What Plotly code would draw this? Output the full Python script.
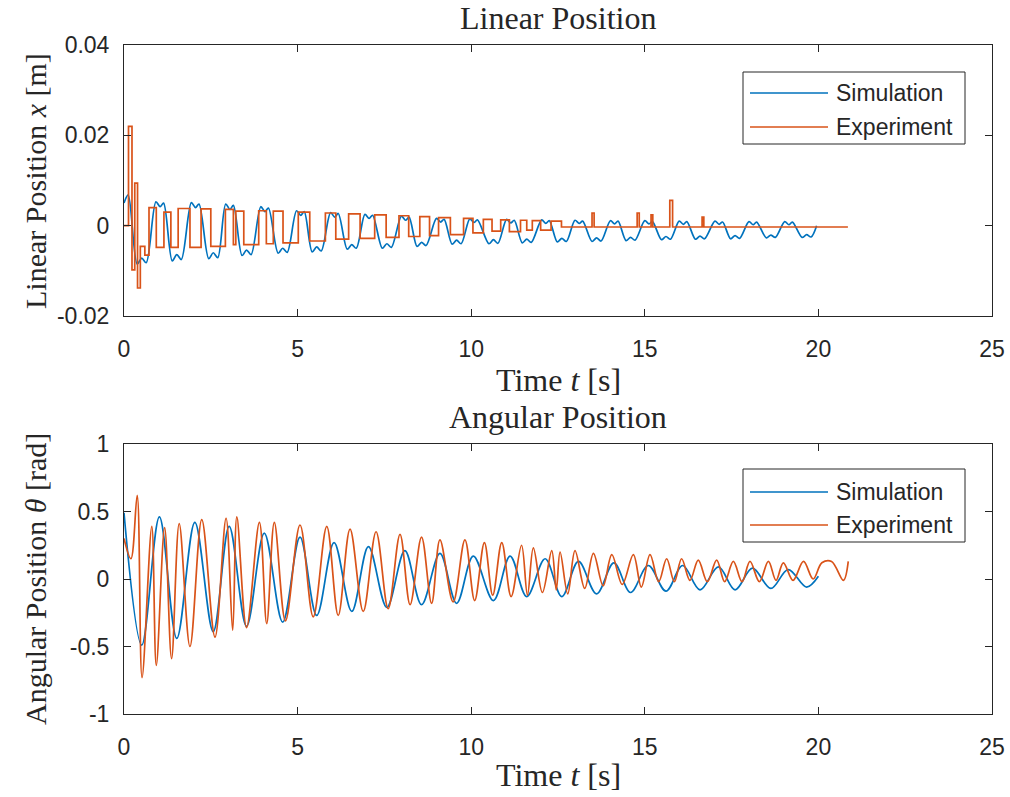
import plotly.graph_objects as go

W, H = 1010, 797

# ---------------- data ----------------
# Linear position, simulation (t [s], x [m])
lin_sim_t = [0.00, 0.12,
             0.38, 0.51, 0.64, 0.92, 1.04, 1.14,
             1.39, 1.52, 1.65, 1.94, 2.06, 2.16,
             2.44, 2.57, 2.70, 2.93, 3.05, 3.15,
             3.40, 3.53, 3.66, 3.94, 4.06, 4.16,
             4.44, 4.57, 4.70, 4.97, 5.09, 5.19,
             5.42, 5.55, 5.68, 5.95, 6.07, 6.17,
             6.43, 6.56, 6.69, 6.94, 7.06, 7.16,
             7.44, 7.57, 7.70, 7.99, 8.11, 8.21,
             8.44, 8.57, 8.70, 9.00, 9.12, 9.22,
             9.45, 9.58, 9.71, 9.96, 10.08, 10.18,
             10.51, 10.64, 10.77, 11.02, 11.14, 11.24,
             11.47, 11.60, 11.73, 12.03, 12.15, 12.25,
             12.48, 12.61, 12.74, 12.99, 13.11, 13.21,
             13.48, 13.61, 13.74, 14.01, 14.13, 14.23,
             14.46, 14.59, 14.72, 15.00, 15.12, 15.22,
             15.48, 15.61, 15.74, 15.99, 16.11, 16.21,
             16.46, 16.59, 16.72, 17.02, 17.14, 17.24,
             17.47, 17.60, 17.73, 18.00, 18.12, 18.22,
             18.50, 18.63, 18.76, 19.03, 19.15, 19.25,
             19.53, 19.66, 19.79, 19.95]
lin_sim_x = [0.0050, 0.0068,
             -0.0085, -0.0072, -0.0082, 0.0053, 0.0042, 0.0050,
             -0.0078, -0.0064, -0.0075, 0.0051, 0.0040, 0.0048,
             -0.0073, -0.0060, -0.0071, 0.0048, 0.0036, 0.0045,
             -0.0066, -0.0054, -0.0064, 0.0042, 0.0031, 0.0039,
             -0.0061, -0.0050, -0.0059, 0.0033, 0.0023, 0.0031,
             -0.0058, -0.0047, -0.0056, 0.0029, 0.0019, 0.0027,
             -0.0052, -0.0042, -0.0050, 0.0025, 0.0016, 0.0023,
             -0.0050, -0.0040, -0.0048, 0.0021, 0.0012, 0.0019,
             -0.0046, -0.0037, -0.0044, 0.0016, 0.0008, 0.0014,
             -0.0041, -0.0032, -0.0040, 0.0015, 0.0007, 0.0013,
             -0.0040, -0.0031, -0.0039, 0.0014, 0.0006, 0.0012,
             -0.0038, -0.0030, -0.0037, 0.0013, 0.0005, 0.0011,
             -0.0036, -0.0028, -0.0035, 0.0012, 0.0005, 0.0010,
             -0.0035, -0.0027, -0.0034, 0.0011, 0.0004, 0.0010,
             -0.0033, -0.0026, -0.0032, 0.0011, 0.0004, 0.0009,
             -0.0031, -0.0024, -0.0030, 0.0010, 0.0003, 0.0009,
             -0.0030, -0.0023, -0.0029, 0.0010, 0.0003, 0.0008,
             -0.0029, -0.0022, -0.0028, 0.0009, 0.0002, 0.0008,
             -0.0027, -0.0021, -0.0026, 0.0009, 0.0002, 0.0008,
             -0.0026, -0.0020, -0.0025, 0.0000]

# Linear position, experiment: encoder steps (start time of each level, level)
lin_exp_t = [0.00, 0.13, 0.23, 0.31, 0.39, 0.47, 0.60,
             0.72, 0.93, 1.15, 1.35, 1.56, 1.90, 2.22, 2.50,
             2.92, 3.15, 3.22, 3.45, 3.88, 4.10, 4.30, 4.58,
             5.02, 5.35, 5.80, 6.10, 6.47, 6.80, 7.22, 7.55,
             7.92, 8.20, 8.52, 8.80, 9.06, 9.40, 9.78, 10.05,
             10.35, 10.60, 10.85, 11.10, 11.42, 11.60, 11.76, 12.00,
             12.30, 12.60, 13.48, 13.54, 14.78, 14.84, 15.18, 15.23,
             15.72, 15.80, 16.65, 16.70, 20.85]
lin_exp_x = [0.0000, 0.0220, -0.0098, 0.0094, -0.0138, -0.0046, -0.0065,
             0.0040, -0.0048, 0.0030, -0.0048, 0.0038, -0.0048, 0.0037, -0.0046,
             0.0036, -0.0042, 0.0032, -0.0042, 0.0033, -0.0040, 0.0032, -0.0038,
             0.0030, -0.0034, 0.0028, -0.0030, 0.0026, -0.0028, 0.0024, -0.0026,
             0.0022, -0.0024, 0.0020, -0.0022, 0.0018, -0.0020, 0.0016, -0.0016,
             0.0014, -0.0012, 0.0013, -0.0013, 0.0012, -0.0010, 0.0011, -0.0010,
             0.0010, -0.0003, 0.0028, -0.0003, 0.0028, -0.0003, 0.0024, -0.0003,
             0.0056, -0.0003, 0.0019, -0.0003, -0.0003]

# Angular position, simulation (t [s], theta [rad])
ang_sim_t = [0.00, 0.51, 1.02, 1.52, 2.04, 2.57, 3.03, 3.53, 4.04, 4.57,
             5.07, 5.55, 6.05, 6.56, 7.04, 7.57, 8.09, 8.57, 9.10, 9.58,
             10.06, 10.64, 11.12, 11.60, 12.13, 12.61, 13.09, 13.61, 14.11, 14.59,
             15.10, 15.61, 16.09, 16.59, 17.12, 17.60, 18.10, 18.63, 19.13, 19.66,
             20.00]
ang_sim_th = [0.49, -0.49, 0.46, -0.44, 0.42, -0.39, 0.39, -0.35, 0.34, -0.32,
              0.31, -0.27, 0.27, -0.24, 0.24, -0.21, 0.21, -0.19, 0.19, -0.18,
              0.17, -0.16, 0.17, -0.13, 0.15, -0.13, 0.13, -0.11, 0.12, -0.10,
              0.10, -0.09, 0.10, -0.08, 0.09, -0.08, 0.08, -0.07, 0.07, -0.06,
              0.02]

# Angular position, experiment (t [s], theta [rad])
ang_exp_t = [0.00, 0.20, 0.38, 0.52, 0.80, 0.93, 1.17, 1.37, 1.59, 1.90,
             2.24, 2.62, 2.94, 3.13, 3.25, 3.53, 3.90, 4.11, 4.33, 4.65,
             5.07, 5.45, 5.84, 6.17, 6.51, 6.89, 7.26, 7.61, 7.95, 8.24,
             8.57, 8.86, 9.10, 9.48, 9.82, 10.10, 10.38, 10.62, 10.88, 11.15,
             11.45, 11.62, 11.79, 12.05, 12.32, 12.45, 12.56, 12.78, 12.99, 13.27,
             13.52, 13.80, 14.05, 14.35, 14.67, 14.90, 15.15, 15.40, 15.63, 15.85,
             16.06, 16.30, 16.54, 16.80, 17.07, 17.30, 17.55, 17.80, 18.03, 18.30,
             18.56, 18.78, 18.99, 19.27, 19.57, 19.85, 20.10, 20.38, 20.72, 20.86]
ang_exp_th = [0.30, 0.15, 0.62, -0.73, 0.39, -0.64, 0.38, -0.59, 0.41, -0.50,
              0.44, -0.43, 0.45, -0.38, 0.46, -0.36, 0.42, -0.33, 0.42, -0.31,
              0.40, -0.28, 0.39, -0.27, 0.37, -0.24, 0.35, -0.22, 0.33, -0.19,
              0.31, -0.18, 0.29, -0.17, 0.29, -0.16, 0.27, -0.12, 0.27, -0.13,
              0.25, -0.12, 0.23, -0.10, 0.21, -0.08, 0.20, -0.11, 0.21, -0.07,
              0.19, -0.05, 0.18, -0.04, 0.18, -0.06, 0.18, -0.02, 0.15, -0.02,
              0.15, -0.01, 0.14, -0.02, 0.14, -0.02, 0.13, -0.02, 0.13, -0.02,
              0.13, -0.01, 0.12, -0.01, 0.13, 0.00, 0.12, 0.13, -0.01, 0.13]

x_ticks = [0, 5, 10, 15, 20, 25]
lin_ticks = [-0.02, 0, 0.02, 0.04]
lin_tick_text = ["-0.02", "0", "0.02", "0.04"]
ang_ticks = [-1, -0.5, 0, 0.5, 1]
ang_tick_text = ["-1", "-0.5", "0", "0.5", "1"]
series_names = ["Simulation", "Experiment"]

# ---------------- styling ----------------
BLUE = "#0072BD"
ORANGE = "#D95319"
AX = "#262626"
SANS = "Liberation Sans, Arial, sans-serif"
SERIF = "Liberation Serif, Times New Roman, serif"

# axes boxes in pixels (left, right, top, bottom)
BOX_X = (124, 992)
TOP_Y = (45, 316)
BOT_Y = (444, 714)


def px(x):
    return x / W


def py(y):
    return 1 - y / H


fig = go.Figure()
fig.add_trace(go.Scatter(x=lin_sim_t, y=lin_sim_x, mode="lines", name=series_names[0],
                         line=dict(color=BLUE, width=1.7, shape="spline", smoothing=0.9),
                         xaxis="x", yaxis="y", showlegend=False))
fig.add_trace(go.Scatter(x=lin_exp_t, y=lin_exp_x, mode="lines", name=series_names[1],
                         line=dict(color=ORANGE, width=1.7, shape="hv"),
                         xaxis="x", yaxis="y", showlegend=False))
fig.add_trace(go.Scatter(x=ang_sim_t, y=ang_sim_th, mode="lines", name=series_names[0],
                         line=dict(color=BLUE, width=1.7, shape="spline", smoothing=1.0),
                         xaxis="x2", yaxis="y2", showlegend=False))
fig.add_trace(go.Scatter(x=ang_exp_t, y=ang_exp_th, mode="lines", name=series_names[1],
                         line=dict(color=ORANGE, width=1.7, shape="spline", smoothing=1.0),
                         xaxis="x2", yaxis="y2", showlegend=False))

axis_common = dict(showline=True, mirror="allticks", linecolor=AX, linewidth=1,
                   ticks="inside", ticklen=7, tickcolor=AX, tickwidth=1,
                   showgrid=False, zeroline=False, automargin=False,
                   tickfont=dict(family=SANS, size=23, color=AX))

fig.update_layout(
    width=W, height=H,
    margin=dict(l=0, r=0, t=0, b=0, autoexpand=False),
    paper_bgcolor="white", plot_bgcolor="white",
    xaxis=dict(domain=[px(BOX_X[0]), px(BOX_X[1])], anchor="y", range=[0, 25],
               tickvals=x_ticks, ticklabelstandoff=12, **axis_common),
    yaxis=dict(domain=[py(TOP_Y[1]), py(TOP_Y[0])], anchor="x", range=[-0.02, 0.04],
               tickvals=lin_ticks, ticktext=lin_tick_text, ticklabelstandoff=9, **axis_common),
    xaxis2=dict(domain=[px(BOX_X[0]), px(BOX_X[1])], anchor="y2", range=[0, 25],
                tickvals=x_ticks, ticklabelstandoff=12, **axis_common),
    yaxis2=dict(domain=[py(BOT_Y[1]), py(BOT_Y[0])], anchor="x2", range=[-1, 1],
                tickvals=ang_ticks, ticktext=ang_tick_text, ticklabelstandoff=9, **axis_common),
    showlegend=False,
)

cx = (BOX_X[0] + BOX_X[1]) / 2
texts = [
    ("Linear Position", cx, 18, 0, 32),
    ("Time <i>t</i> [s]", cx, 380, 0, 32),
    ("Linear Position <i>x</i> [m]", 35, 181, -90, 30),
    ("Angular Position", cx, 417, 0, 32),
    ("Time <i>t</i> [s]", cx, 775, 0, 32),
    ("Angular Position <i>θ</i> [rad]", 35, 579, -90, 30),
]
for txt, x, y, ang, size in texts:
    fig.add_annotation(text=txt, x=px(x), y=py(y), xref="paper", yref="paper",
                       showarrow=False, textangle=ang, xanchor="center", yanchor="middle",
                       font=dict(family=SERIF, size=size, color=AX))

# legend boxes
for (top, bottom, row1, row2) in [(72, 144, 93, 127), (469, 542, 492, 525)]:
    fig.add_shape(type="rect", xref="paper", yref="paper",
                  x0=px(743), x1=px(965), y0=py(bottom), y1=py(top),
                  line=dict(color=AX, width=1), fillcolor="white")
    for yrow, col, name in [(row1, BLUE, series_names[0]), (row2, ORANGE, series_names[1])]:
        fig.add_shape(type="line", xref="paper", yref="paper",
                      x0=px(750), x1=px(828), y0=py(yrow), y1=py(yrow),
                      line=dict(color=col, width=1.7))
        fig.add_annotation(text=name, x=px(834), y=py(yrow), xref="paper", yref="paper",
                           showarrow=False, xanchor="left", yanchor="middle",
                           font=dict(family=SANS, size=23, color=AX))

fig.write_html("out.html")
